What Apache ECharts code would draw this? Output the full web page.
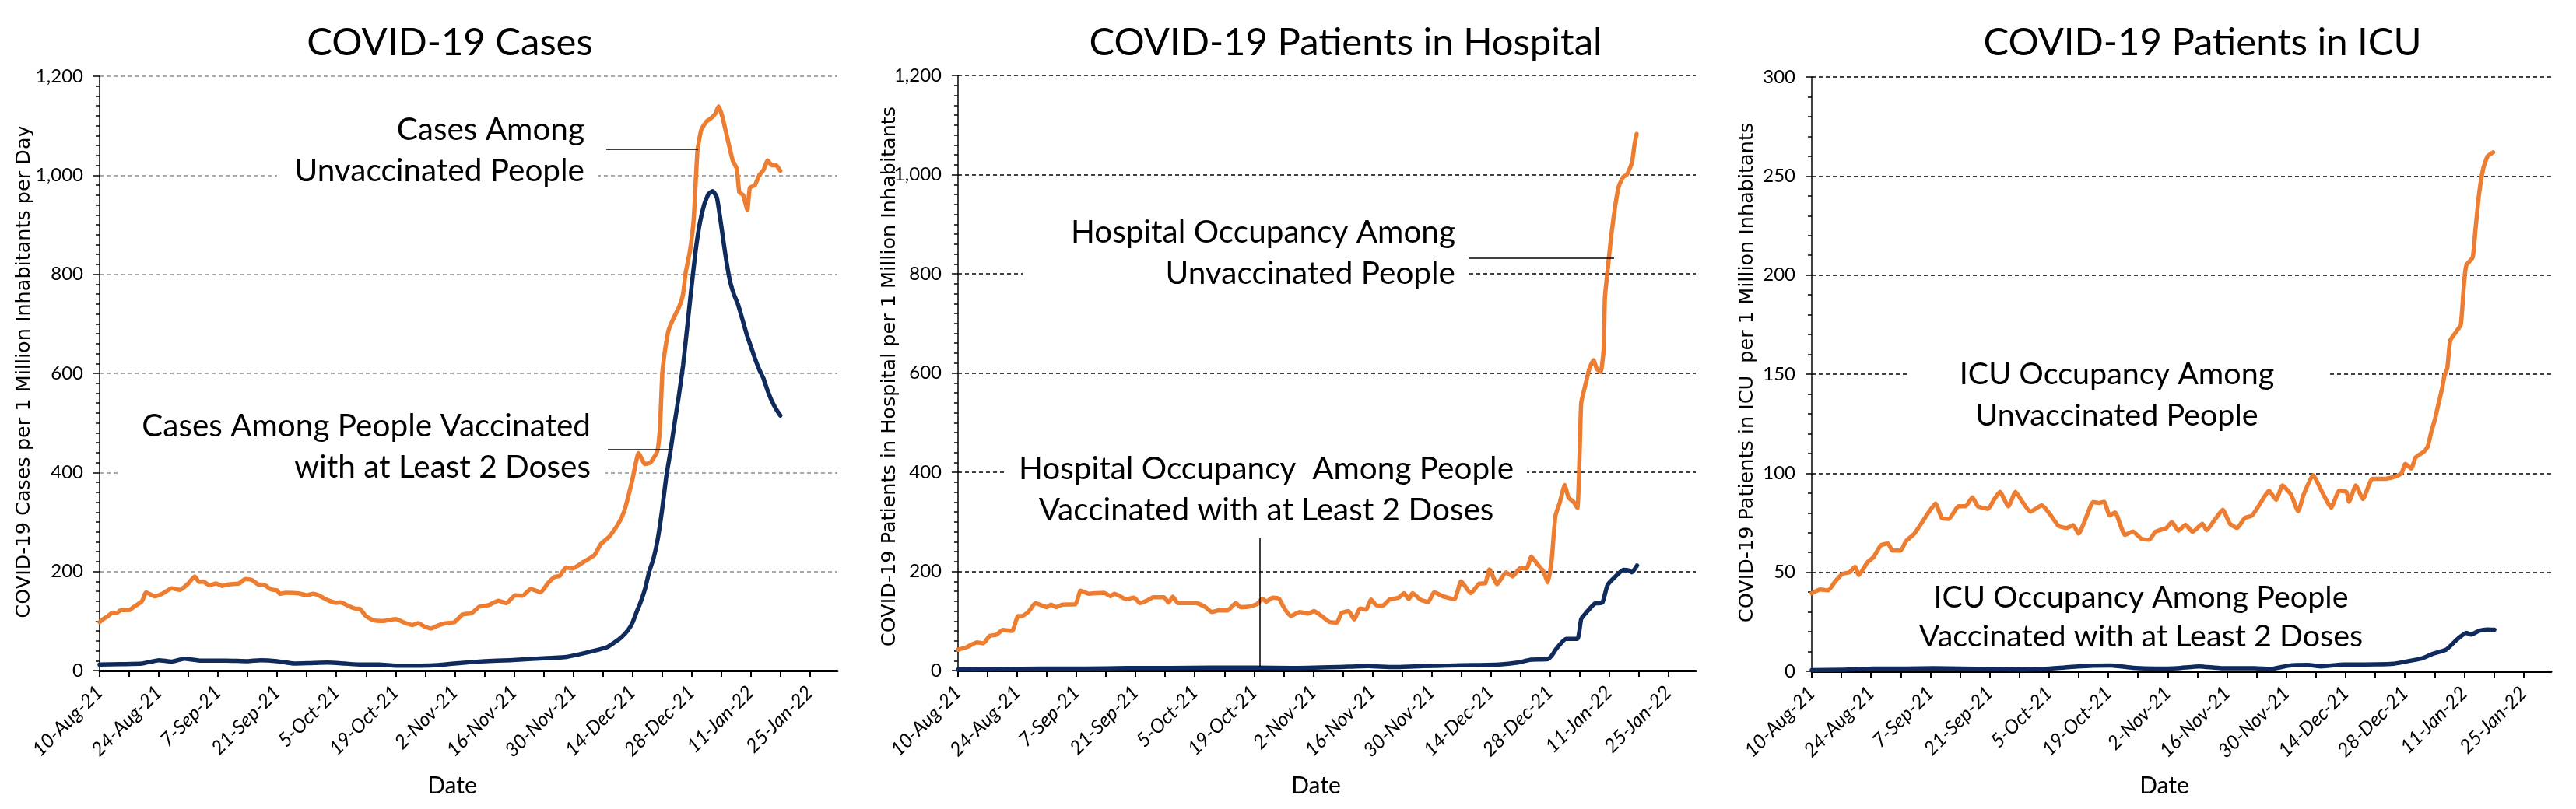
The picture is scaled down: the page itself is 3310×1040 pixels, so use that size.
<!DOCTYPE html>
<html><head><meta charset="utf-8">
<script src="https://cdn.jsdelivr.net/npm/echarts@6/dist/echarts.min.js"></script>
<style>html,body{margin:0;padding:0;background:#fff}#c{width:3310px;height:1040px}</style>
</head><body><div id="c"></div>
<script>
// ---- data (x = days since 10-Aug-21) ----
const xTickLabels = ['10-Aug-21','24-Aug-21','7-Sep-21','21-Sep-21','5-Oct-21','19-Oct-21','2-Nov-21','16-Nov-21','30-Nov-21','14-Dec-21','28-Dec-21','11-Jan-22','25-Jan-22'];
const casesUnvax = [[0,98],[1,105],[2,110],[3,117],[4,116],[5,122],[7,122],[8,128],[10,140],[11,158],[13,150],[15,156],[17,166],[19,163],[21,176],[22.5,190],[23.5,179],[24.5,180],[26,172],[27.5,176],[29,171],[30.5,174],[32,175],[33,176],[34.5,185],[36,183],[37.5,174],[39,173],[40.5,164],[42,162],[42.6,155],[44,157],[47,156],[49,152],[50.5,155],[52,151],[54,142],[56,137],[57,138],[59,130],[60.5,125],[61.6,124],[63,110],[64.6,102],[67,100],[70,104],[72,97],[74,92],[75.4,96],[76.6,90],[78.4,85],[80,91],[81.5,95],[84,98],[85.8,113],[88,116],[89.8,129],[92,132],[94.3,141],[96.2,136],[98.3,152],[100,151],[102,165],[104.3,158],[106,176],[107.6,189],[108.8,191],[110.3,208],[111.8,206],[114.6,220],[117,233],[118.6,256],[120.5,270],[122.6,295],[124,320],[125,350],[126,385],[127.5,439],[129,417],[130.3,420],[131.9,443],[132.5,486],[132.8,543],[133.1,601],[133.7,645],[134.6,688],[135.9,714],[137.1,735],[138,760],[138.6,803],[139.6,846],[140.5,910],[141.4,1049],[142.3,1092],[143.5,1108],[144.7,1116],[145.6,1124],[146.4,1139],[147.3,1118],[148.2,1085],[149.7,1031],[150.7,1013],[151.3,966],[152.2,960],[153.2,930],[153.8,975],[155,980],[156,1000],[157,1010],[158,1030],[159,1020],[160,1020],[161,1009]];
const casesVax = [[0,12],[5,13],[10,14],[14,21],[17,18],[20,24],[24,20],[30,20],[35,19],[38,21],[42,19],[46,14],[50,15],[54,16],[58,14],[62,12],[66,12],[70,10],[76,10],[80,11],[85,15],[91,19],[97,21],[103,24],[110,27],[113,32],[117,40],[120,47],[122,58],[123.5,68],[125,82],[126,96],[127,118],[128,139],[129,165],[130,200],[131,226],[132,265],[133,322],[134,390],[135,442],[136,500],[137,555],[138,616],[139,695],[140,775],[141,850],[142,905],[143,941],[144,962],[145,968],[146,955],[147,900],[148,840],[149,790],[150,760],[151,739],[152,710],[153,680],[154,655],[155,630],[156,608],[157,590],[158,565],[159,544],[160,528],[161,515]];
const hospUnvax = [[0,42],[2,47],[4.5,57],[6,55],[7.5,70],[9,72],[10.6,82],[12.8,80],[14.2,110],[15.2,110],[16.7,119],[18.3,136],[21,128],[22,133],[23.2,128],[24.7,133],[27.8,134],[29,161],[30.9,155],[34.5,157],[36.1,150],[37,155],[39.8,144],[41.6,147],[43.1,136],[44.7,141],[46.2,148],[48.7,148],[49.8,137],[50.8,149],[52,136],[56.3,136],[58.5,128],[60,118],[61.5,121],[63.7,121],[65.7,136],[66.8,128],[68.9,129],[70.7,134],[72,145],[72.9,139],[74.4,147],[75.9,145],[77.2,125],[78.7,110],[80.8,118],[82.8,115],[84.2,120],[86,110],[87.9,98],[89.6,97],[90.7,116],[92.4,120],[93.7,103],[95.1,125],[96.5,123],[97.7,143],[98.9,132],[100.5,131],[102,143],[104.2,147],[105.5,156],[106.6,144],[107.5,156],[109.4,143],[111.2,138],[112.6,158],[114.6,150],[117.4,144],[119,180],[121.3,156],[123.2,175],[124.7,176],[125.7,204],[127.5,174],[129.6,198],[131.2,190],[133,207],[134.5,206],[135.6,230],[137,215],[138.4,201],[139.5,178],[140.4,222],[141.3,312],[142.3,338],[143.5,374],[144.4,349],[145.6,340],[146.5,328],[147,432],[147.4,540],[148.3,573],[149.3,608],[150.3,626],[151.1,608],[152,602],[152.7,647],[153,752],[153.6,804],[154.5,877],[155.4,935],[156.3,977],[157.3,995],[158.2,1000],[159.4,1024],[160,1061],[160.5,1082]];
const hospVax = [[0,2],[10,3],[20,4],[30,4],[40,5],[50,5],[60,6],[70,6],[79,5],[90,7],[97,9],[103,7],[110,9],[116,10],[122,11],[128,12],[132.4,16],[135.5,22],[139.5,23],[140.4,30],[141.6,45],[143.8,64],[146.5,64],[147.4,104],[148.6,117],[150.6,135],[152.4,137],[153.6,172],[155.4,189],[157.4,203],[158.6,202],[159.4,198],[160.6,212]];
const icuUnvax = [[0,39.4],[2,41.3],[3.9,40.9],[5.5,45.3],[7.2,49.2],[8.9,50],[10.2,52.8],[11.1,48.6],[13.1,54.9],[14.6,57.7],[16.3,63.6],[18,64.5],[19,61],[21,61],[22.2,65.6],[24.2,69.5],[25.9,74.8],[27.5,80],[29.2,84.7],[30.7,77.4],[32.4,77],[34.6,83.3],[36.3,83.3],[37.9,87.9],[39.2,83.3],[41.6,82],[43.1,87],[44.4,90.6],[46.4,83.3],[48.1,90.6],[49.7,85.6],[51.6,80.6],[54.3,83.8],[56.2,79.4],[58.2,73.5],[60.1,72.4],[61.7,73.8],[63,69.5],[64.7,77.4],[66.4,85.5],[67.7,85],[69,85.6],[70.3,78.7],[71.6,80.2],[73.9,68.9],[75.8,70.6],[77.8,66.9],[79.7,66.5],[81.1,70.4],[83.7,72.4],[85,75.4],[86.5,71],[88.2,74],[89.9,70.4],[92.2,74.5],[93.2,71.2],[95.4,77.4],[97,81.6],[98.7,74.5],[100.4,72.4],[102.2,77.4],[103.9,78.6],[105.9,84.9],[107.9,91.2],[109.6,86.6],[111.1,93.8],[113.1,89.3],[114.8,80.8],[116.1,89.3],[118.3,99.1],[120.3,91.2],[122.6,82.7],[124.5,91.2],[126.2,90.6],[126.8,85.6],[128.4,93.8],[130.1,87],[132.3,97.2],[135.3,97.2],[137.9,98.4],[139.2,100],[140.1,104.7],[141.5,102.4],[142.5,107.9],[144.5,110.9],[145.4,113.6],[146.2,120.7],[147.1,127.3],[147.7,133],[148.8,143],[149.3,149],[150,153],[150.7,167],[152.3,172],[153.2,175],[154,197],[154.5,205],[156,209],[156.6,222],[157.5,241],[158.5,254],[159.5,260],[160.8,262]];
const icuVax = [[0,0.6],[7.8,0.8],[14.4,1.4],[22.2,1.4],[28.8,1.6],[35.3,1.4],[41.8,1.2],[49.7,0.9],[54.9,1.2],[62.8,2.5],[70.6,2.9],[75.8,1.8],[81.1,1.4],[86.3,1.6],[91.5,2.5],[96.7,1.6],[104.6,1.6],[108.5,1.2],[112.4,2.8],[117,3.2],[120.3,2.5],[125.5,3.4],[133.3,3.5],[137.3,3.8],[139.9,4.8],[143.8,6.4],[146.4,8.7],[149.7,10.9],[152.3,16.1],[154.5,19.4],[155.6,18.6],[157.5,20.5],[159.5,21.1],[161.1,21]];
const titles = ['COVID-19 Cases','COVID-19 Patients in Hospital','COVID-19 Patients in ICU'];
const yNames = ['COVID-19 Cases per 1 Million Inhabitants per Day','COVID-19 Patients in Hospital per 1 Million Inhabitants','COVID-19 Patients in ICU  per 1 Million Inhabitants'];
const yMax = [1200,1200,300];
const yStep = [200,200,50];

// ---- chart ----
const FONT = 'Lato, "Liberation Sans", sans-serif';
const YFONT = '"DejaVu Sans", Verdana, sans-serif';
const ORANGE = '#ED7D31', NAVY = '#0F2A5C';
const grids = [
  {left:128, top:98, width:948, height:764},
  {left:1231, top:97, width:948, height:765},
  {left:2328, top:99, width:950, height:764}
];
const tickVals = [], labelVals = [];
for (let d = 0; d <= 168; d += 7) tickVals.push(d);
for (let d = 0; d <= 168; d += 14) labelVals.push(d);
const gridColors = ['#8c8c8c','#000','#000'];
const minorSplits = [10,10,5];

const xAxes = grids.map((g,i)=>({
  type:'value', gridIndex:i, min:0, max:174.5,
  axisLine:{show:true, onZero:false, lineStyle:{color:'#000', width:3}},
  axisTick:{show:true, customValues:tickVals, length:8, lineStyle:{color:'#000', width:2}},
  splitLine:{show:false},
  axisLabel:{customValues:labelVals, rotate:45, fontFamily:FONT, fontStyle:'italic', fontSize:25, color:'#000', margin:24,
    formatter: v => xTickLabels[Math.round(v/14)] || ''}
}));
const yAxes = grids.map((g,i)=>({
  type:'value', gridIndex:i, min:0, max:yMax[i], interval:yStep[i],
  axisLine:{show:true, lineStyle:{color:'#000', width:1.5}},
  axisTick:{show:true, length:8, lineStyle:{color:'#000', width:1.5}},
  minorTick:{show:true, splitNumber:minorSplits[i], length:5, lineStyle:{color:'#000', width:1.5}},
  splitLine:{show:true, lineStyle:{color:gridColors[i], type:[5,4], width:1.5}},
  axisLabel:{fontFamily:FONT, fontSize:24, color:'#000', margin:21, formatter: v => v.toLocaleString('en-US')}
}));
function line(data, color, i){
  return {type:'line', xAxisIndex:i, yAxisIndex:i, data, showSymbol:false, smooth:0.15, z:3,
    lineStyle:{color, width:5.5, cap:'round', join:'round'}, emphasis:{disabled:true}};
}
const series = [
  line(casesUnvax, ORANGE, 0), line(casesVax, NAVY, 0),
  line(hospUnvax, ORANGE, 1), line(hospVax, NAVY, 1),
  line(icuUnvax, ORANGE, 2), line(icuVax, NAVY, 2)
];

// ---- decorations (titles, axis names, annotations) ----
const titleX = [578,1729,2830];
const dateX = [581,1691,2781];
const yNameX = [31,1143,2245];
const yNameY = [478,484,479];
const gfx = [];
function txt(x,y,text,size,opts){
  return Object.assign({type:'text', x, y, z:100, style:Object.assign({text, fontFamily:FONT, fontSize:size, fill:'#000', align:'center', verticalAlign:'middle'}, (opts&&opts.style)||{})}, (opts&&opts.el)||{});
}
for (let i=0;i<3;i++){
  gfx.push(txt(titleX[i],55,titles[i],49));
  gfx.push(txt(dateX[i],1010,'Date',30));
  gfx.push(txt(yNameX[i],yNameY[i],yNames[i],25.5,{style:{fontFamily:YFONT}, el:{rotation:Math.PI/2}}));
}
function rect(x1,y1,x2,y2){ return {type:'rect', z:90, shape:{x:x1,y:y1,width:x2-x1,height:y2-y1}, style:{fill:'#fff'}}; }
function seg(x1,y1,x2,y2){ return {type:'line', z:95, shape:{x1,y1,x2,y2}, style:{stroke:'#000', lineWidth:1.5}}; }
const ann = [
  {box:[356,135,769,250], x:751, y:193, align:'right', size:40.5, text:'Cases Among\nUnvaccinated People', lh:53},
  {box:[155,515,778,632], x:759, y:574, align:'right', size:40.5, text:'Cases Among People Vaccinated\nwith at Least 2 Doses', lh:53},
  {box:[1314,268,1887,385], x:1870, y:325, align:'right', size:40.5, text:'Hospital Occupancy Among\nUnvaccinated People', lh:53},
  {box:[1294,572,1962,688], x:1627, y:629, align:'center', size:40.5, text:'Hospital Occupancy  Among People\nVaccinated with at Least 2 Doses', lh:53},
  {box:[2451,452,2990,566], x:2720, y:508, align:'center', size:39.5, text:'ICU Occupancy Among\nUnvaccinated People', lh:53},
  {box:null, x:2751, y:793, align:'center', size:39.5, text:'ICU Occupancy Among People\nVaccinated with at Least 2 Doses', lh:50}
];
ann.forEach(a=>{
  if (a.box) gfx.push(rect(...a.box));
  gfx.push(txt(a.x,a.y,a.text,a.size,{style:{align:a.align, lineHeight:a.lh}}));
});
gfx.push(seg(779,192,897,192));
gfx.push(seg(781,578,863,578));
gfx.push(seg(1887,332,2074,332));
gfx.push(seg(1619,692,1619,857));

const chart = echarts.init(document.getElementById('c'), null, {renderer:'canvas', width:3310, height:1040});
chart.setOption({
  animation:false,
  backgroundColor:'#fff',
  grid: grids,
  xAxis: xAxes,
  yAxis: yAxes,
  series,
  graphic: gfx
});
</script></body></html>
